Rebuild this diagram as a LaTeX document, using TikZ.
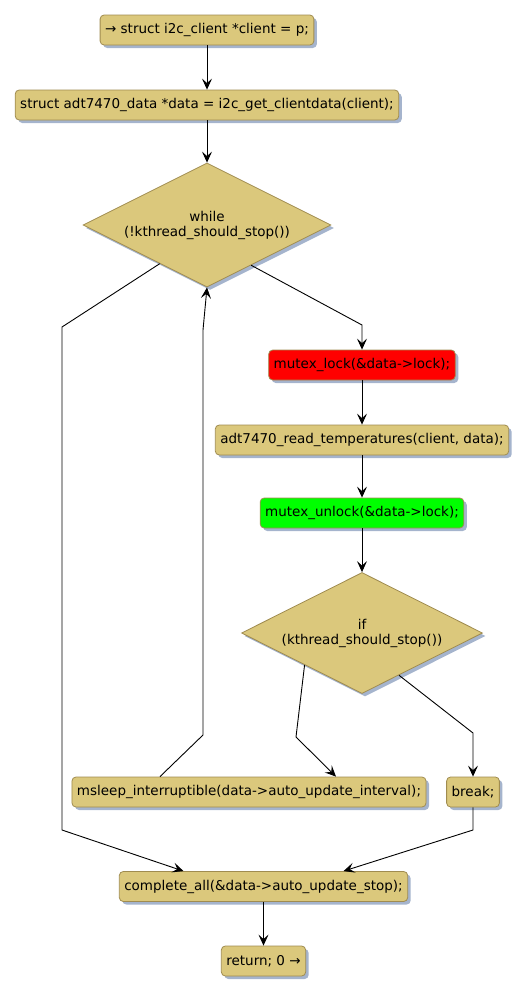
\documentclass[tikz,border=0pt]{standalone}
\usepackage{fontspec}
\setmainfont{DejaVu Sans}
\usetikzlibrary{arrows.meta, positioning, calc, shapes.geometric, shadows}
\definecolor{actfill}{RGB}{219,200,124}
\definecolor{actline}{RGB}{160,140,80}
\definecolor{actshadow}{RGB}{165,180,205}
\begin{document}
\begin{tikzpicture}[
  x=1bp, y=-1bp,
  action/.style={rectangle, rounded corners=4bp, draw=actline, fill=actfill,
                 line width=0.8bp, minimum height=30bp, inner xsep=5bp,
                 font=\fontsize{13.5bp}{15bp}\selectfont,
                 drop shadow={shadow xshift=3bp, shadow yshift=-3bp, fill=actshadow, opacity=1}},
  choice/.style={diamond, aspect=2, draw=actline, fill=actfill, line width=0.8bp,
                 inner sep=0pt, align=center,
                 font=\fontsize{13.5bp}{15bp}\selectfont,
                 drop shadow={shadow xshift=3bp, shadow yshift=-3bp, fill=actshadow, opacity=1}},
  flow/.style={-{Stealth[length=11bp, width=10bp, inset=4.5bp]}, line width=0.9bp}
]
\useasboundingbox (0,0) rectangle (529,994);

\node[action] (start) at (207,30)    {→ struct i2c\_client *client = p;};
\node[action] (getdata) at (207,105) {struct adt7470\_data *data = i2c\_get\_clientdata(client);};
\node[choice, minimum width=248bp, minimum height=124bp] (loop) at (207,225) {while\\(!kthread\_should\_stop())};
\node[action, fill=red] (lock) at (362,365) {mutex\_lock(\&data->lock);};
\node[action] (readtemp) at (362,440) {adt7470\_read\_temperatures(client, data);};
\node[action, fill=green] (unlock) at (362,513) {mutex\_unlock(\&data->lock);};
\node[choice, minimum width=241bp, minimum height=121bp] (stopif) at (362,633) {if\\(kthread\_should\_stop())};
\node[action] (sleep) at (249,792)  {msleep\_interruptible(data->auto\_update\_interval);};
\node[action] (brk) at (473,792)    {break;};
\node[action] (done) at (263.5,886.5) {complete\_all(\&data->auto\_update\_stop);};
\node[action] (ret) at (263.5,961)  {return; 0 →};

\foreach \a/\b in {start/getdata, getdata/loop, lock/readtemp, readtemp/unlock, unlock/stopif, done/ret}
  \draw[flow] (\a) -- (\b);

% loop exits
\draw[flow] ($(loop.west)!0.62!(loop.south)$) -- (62,327) -- (62,830) -- ([xshift=-80bp]done.north);
\draw[flow] ($(loop.east)!0.645!(loop.south)$) -- (362,325) -- (lock.north);

% if branches
\draw[flow] ($(stopif.west)!0.525!(stopif.south)$) -- (296,737) -- ([xshift=87bp]sleep.north);
\draw[flow] ($(stopif.east)!0.694!(stopif.south)$) -- (473,733) -- (brk.north);

% back to loop / out
\draw[flow] ([xshift=-89bp]sleep.north) -- (203,735) -- (203,330) -- (loop.south);
\draw[flow] (brk.south) -- (473,830) -- ([xshift=80bp]done.north);

\end{tikzpicture}
\end{document}
